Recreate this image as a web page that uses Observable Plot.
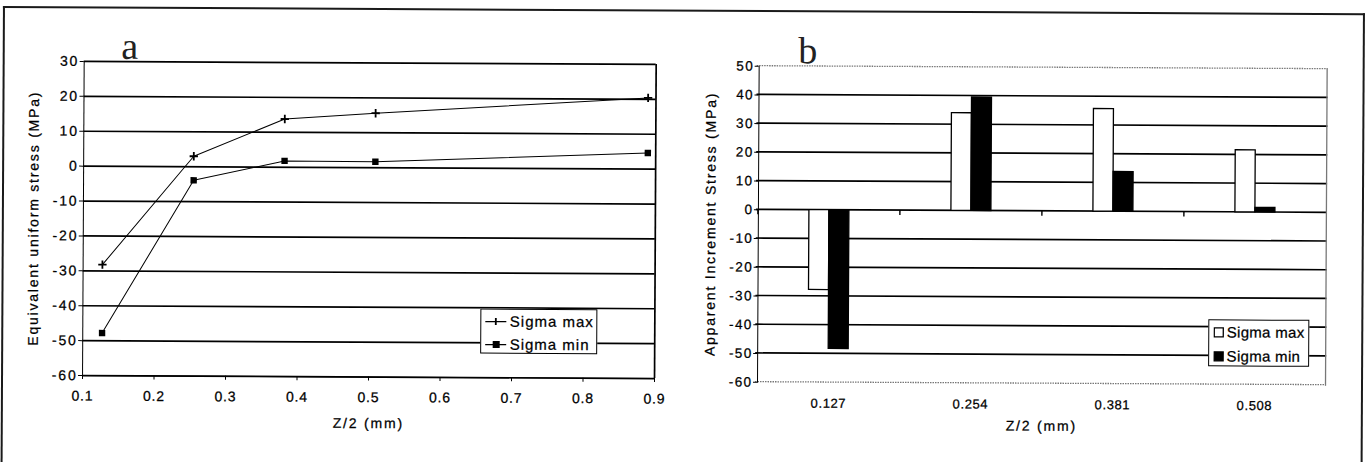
<!DOCTYPE html>
<html><head><meta charset="utf-8">
<script src="https://cdn.jsdelivr.net/npm/d3@7"></script>
<script src="https://cdn.jsdelivr.net/npm/@observablehq/plot@0.6"></script>
<style>
html,body{margin:0;padding:0;background:#fff;}
#root{position:relative;width:1367px;height:462px;overflow:hidden;background:#fff;}
#rot{position:absolute;left:0;top:0;width:1367px;height:462px;transform-origin:0 0;transform:rotate(0.3deg);}
.panel{position:absolute;top:0;}
.frame{position:absolute;left:3px;top:6px;width:1358px;height:480px;border:2px solid #1a1a1a;border-bottom:none;}
.tag{position:absolute;font-family:"Liberation Serif","Times New Roman",serif;font-size:38px;line-height:1;color:#222;}
.legend{position:absolute;background:#fff;border:1px solid #000;box-sizing:border-box;font-family:"Liberation Sans",Arial,sans-serif;font-size:15px;color:#000;-webkit-text-stroke:0.25px #000;}
.legend .row{position:absolute;left:0;height:18px;line-height:18px;white-space:nowrap;}
.legend svg{position:absolute;top:0;}
.legend span{position:absolute;top:0;}
/* axis text sizes */
.panel g[aria-label$="label"] text{stroke:#000;stroke-width:0.25px;}
#panelA g[aria-label="y-axis tick label"] text{font-size:14px;letter-spacing:1.8px;}
#panelA g[aria-label="x-axis tick label"] text{font-size:14px;letter-spacing:0.8px;}
#panelA g[aria-label="y-axis label"] text,
#panelB g[aria-label="y-axis label"] text{font-size:14px;letter-spacing:1.8px;}
#panelA g[aria-label="x-axis label"] text,
#panelB g[aria-label="fx-axis label"] text{font-size:14px;letter-spacing:1.8px;}
#panelB g[aria-label="y-axis tick label"] text{font-size:13.5px;letter-spacing:1.4px;}
#panelB g[aria-label="fx-axis tick label"] text{font-size:13px;letter-spacing:0.6px;}
</style></head><body>
<div id="root"><div id="rot">
  <div class="frame"></div>
  <div class="panel" id="panelA" style="left:0;width:680px;height:462px;"></div>
  <div class="panel" id="panelB" style="left:680px;width:687px;height:462px;"></div>
  <div class="tag" id="tagA" style="left:121.5px;top:25.5px;">a</div>
  <div class="tag" id="tagB" style="left:798.5px;top:27px;">b</div>
  <div class="legend" id="legendA" style="left:481.5px;top:305.5px;width:117px;height:45px;"></div>
  <div class="legend" id="legendB" style="left:1209.5px;top:312.5px;width:101px;height:47px;"></div>
</div></div>
<script>
// ---------- data ----------
const seriesNames = ["Sigma max", "Sigma min"];

// panel a
const zA = [0.127, 0.254, 0.381, 0.508, 0.889];
const sigmaMaxA = [-28.2, 3.0, 13.8, 15.6, 20.4];
const sigmaMinA = [-47.8, -3.9, 1.8, 1.7, 4.6];
const xTicksA = [0.1, 0.2, 0.3, 0.4, 0.5, 0.6, 0.7, 0.8, 0.9];
const yTicksA = [-60, -50, -40, -30, -20, -10, 0, 10, 20, 30];

// panel b
const categoriesB = ["0.127", "0.254", "0.381", "0.508"];
const sigmaMaxB = [-27.8, 34.0, 35.7, 21.6];
const sigmaMinB = [-48.3, 39.5, 13.8, 1.6];
const yTicksB = [-60, -50, -40, -30, -20, -10, 0, 10, 20, 30, 40, 50];

const fontStyle = {
  fontFamily: '"Liberation Sans", Arial, sans-serif',
  fontSize: "13px",
  color: "#000",
  background: "transparent",
  overflow: "visible"
};

// ---------- panel a ----------
const rowsA = zA.flatMap((z, i) => [
  {z, value: sigmaMaxA[i], series: seriesNames[0]},
  {z, value: sigmaMinA[i], series: seriesNames[1]}
]);

const chartA = Plot.plot({
  width: 680, height: 462,
  marginLeft: 84, marginRight: 24, marginTop: 60.5, marginBottom: 87.4,
  style: fontStyle,
  x: {domain: [0.1, 0.9], ticks: xTicksA, tickFormat: d => d.toFixed(1), tickSize: 4, tickPadding: 11,
      label: "Z/2 (mm)", labelAnchor: "center", labelArrow: "none", labelOffset: 51, line: true},
  y: {domain: [-60, 30], ticks: yTicksA, tickFormat: d => String(d), tickSize: 4, tickPadding: 1,
      label: "Equivalent uniform stress (MPa)", labelAnchor: "center", labelArrow: "none", labelOffset: 55, line: true},
  marks: [
    Plot.ruleY(yTicksA, {stroke: "#000", strokeWidth: 1.7}),
    Plot.ruleX([xTicksA[xTicksA.length - 1]], {stroke: "#000", strokeWidth: 1.7}),
    Plot.line(rowsA, {x: "z", y: "value", z: "series", stroke: "#000", strokeWidth: 1}),
    Plot.dot(rowsA.filter(d => d.series === seriesNames[1]), {x: "z", y: "value", symbol: "square", fill: "#000", r: 3.6}),
    Plot.dot(rowsA.filter(d => d.series === seriesNames[0]), {x: "z", y: "value", symbol: "plus", stroke: "#000", strokeWidth: 1.8, r: 2.8})
  ]
});
document.getElementById("panelA").append(chartA);

// ---------- panel b ----------
const rowsB = categoriesB.flatMap((c, i) => [
  {cat: c, series: seriesNames[0], value: sigmaMaxB[i]},
  {cat: c, series: seriesNames[1], value: sigmaMinB[i]}
]);

const chartB = Plot.plot({
  width: 687, height: 462,
  marginLeft: 77, marginRight: 39, marginTop: 61.7, marginBottom: 84.3,
  style: fontStyle,
  fx: {domain: categoriesB, padding: 0, axis: "bottom", tickSize: 0, tickPadding: 16,
       label: "Z/2 (mm)", labelAnchor: "center", labelArrow: "none", labelOffset: 47},
  x: {domain: seriesNames, paddingInner: 0, paddingOuter: 2.4, axis: null},
  y: {domain: [-60, 50], ticks: yTicksB, tickFormat: d => String(d), tickSize: 4, tickPadding: 1,
      label: "Apparent Increment Stress (MPa)", labelAnchor: "center", labelArrow: "none", labelOffset: 53, line: true},
  color: {domain: seriesNames, range: ["white", "black"]},
  marks: [
    Plot.frame({anchor: "right", facet: "super", stroke: "#777", strokeWidth: 1.3, strokeDasharray: "1.5,1"}),
    Plot.barY(rowsB, {fx: "cat", x: "series", y: "value", fill: "series", stroke: "#000", strokeWidth: 1.3, inset: 0})
  ]
});
document.getElementById("panelB").append(chartB);

// Gridlines spanning all facets and category-boundary ticks, placed with Plot's own fx and y scales
(function decorateB() {
  const fxScale = chartB.scale("fx");
  const yScale = chartB.scale("y");
  if (!fxScale || !yScale) return;
  const [xLeft, xRight] = fxScale.range;
  const grid = document.createElementNS("http://www.w3.org/2000/svg", "g");
  grid.setAttribute("aria-label", "gridlines");
  chartB.insertBefore(grid, chartB.firstChild ? chartB.firstChild.nextSibling : null);
  const g = d3.select(grid);
  yTicksB.forEach((v, i) => {
    const edge = i === 0 || i === yTicksB.length - 1;
    const y = yScale.apply(v);
    g.append("line").attr("x1", xLeft).attr("x2", xRight).attr("y1", y).attr("y2", y)
      .attr("stroke", edge ? "#777" : "#000")
      .attr("stroke-width", edge ? 1.3 : 1.7)
      .attr("stroke-dasharray", edge ? "1.5,1" : null);
  });
  const y0 = yScale.apply(0);
  const t = d3.select(chartB).append("g").attr("aria-label", "category boundary ticks");
  categoriesB.forEach(c => {
    const x = fxScale.apply(c);
    t.append("line").attr("x1", x).attr("x2", x).attr("y1", y0).attr("y2", y0 + 5)
      .attr("stroke", "#000").attr("stroke-width", 1.4);
  });
})();

// ---------- legends ----------
function legendA() {
  const box = d3.select("#legendA");
  const centers = [12, 35];
  seriesNames.forEach((name, i) => {
    const row = box.append("div").attr("class", "row").style("top", (centers[i] - 9) + "px").style("width", "100%");
    const svg = row.append("svg").attr("width", 24).attr("height", 18).style("left", "3px");
    svg.append("line").attr("x1", 1).attr("x2", 22).attr("y1", 9).attr("y2", 9).attr("stroke", "#000").attr("stroke-width", 1.2);
    if (i === 0) {
      svg.append("line").attr("x1", 11.5).attr("x2", 11.5).attr("y1", 5.5).attr("y2", 12.5).attr("stroke", "#000").attr("stroke-width", 1.8);
    } else {
      svg.append("rect").attr("x", 8.5).attr("y", 5.5).attr("width", 7).attr("height", 7).attr("fill", "#000");
    }
    row.append("span").style("left", "29px").style("letter-spacing", "1px").text(name);
  });
}
function legendB() {
  const box = d3.select("#legendB");
  const centers = [12.6, 36];
  seriesNames.forEach((name, i) => {
    const row = box.append("div").attr("class", "row").style("top", (centers[i] - 9) + "px").style("width", "100%");
    const svg = row.append("svg").attr("width", 12).attr("height", 18).style("left", "4px");
    svg.append("rect").attr("x", 1).attr("y", 4.5).attr("width", 9).attr("height", 9)
      .attr("fill", i === 0 ? "#fff" : "#000").attr("stroke", "#000").attr("stroke-width", 1.3);
    row.append("span").style("left", "18px").style("letter-spacing", "0.3px").text(name);
  });
}
legendA();
legendB();
</script>
</body></html>
